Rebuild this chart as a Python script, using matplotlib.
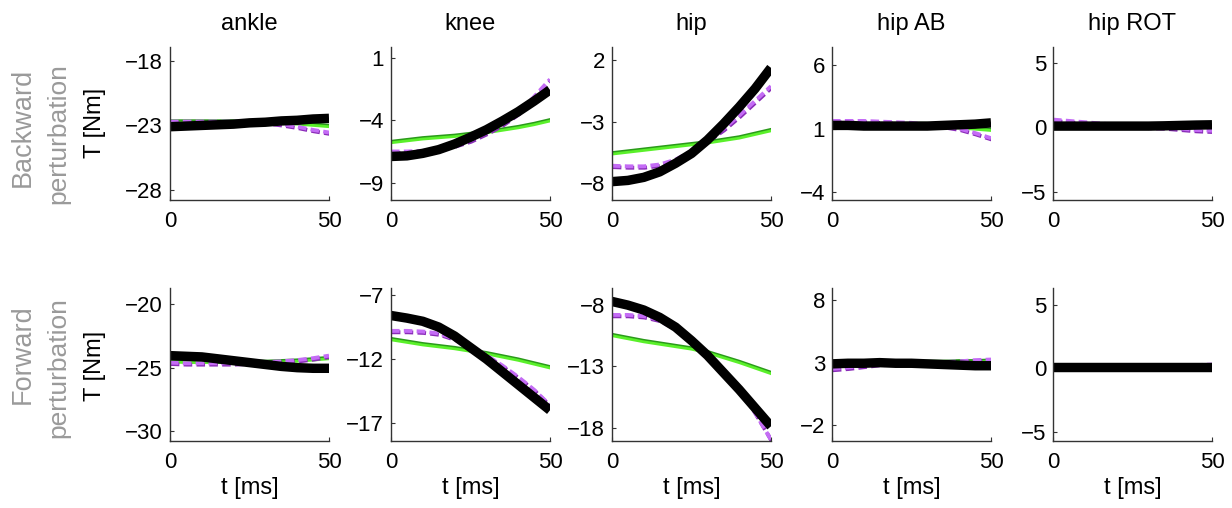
import numpy as np
import matplotlib.pyplot as plt
import matplotlib.patheffects as pe

plt.rcParams['font.family'] = ['Liberation Sans', 'DejaVu Sans']

t = [0, 5, 10, 15, 20, 25, 30, 35, 40, 45, 50]
joints = ['ankle', 'knee', 'hip', 'hip AB', 'hip ROT']
row_names = [('Backward', 'perturbation'), ('Forward', 'perturbation')]

# backward perturbation
bw_black = [
    [-23.1, -23.05, -23.0, -22.95, -22.9, -22.8, -22.75, -22.65, -22.6, -22.5, -22.45],
    [-6.9, -6.85, -6.65, -6.35, -5.9, -5.35, -4.75, -4.05, -3.3, -2.45, -1.55],
    [-7.9, -7.8, -7.55, -7.1, -6.4, -5.6, -4.5, -3.2, -1.8, -0.3, 1.4],
    [1.25, 1.25, 1.2, 1.2, 1.2, 1.2, 1.2, 1.25, 1.3, 1.35, 1.45],
    [0.1, 0.1, 0.1, 0.1, 0.1, 0.1, 0.1, 0.12, 0.15, 0.18, 0.2],
]
bw_green = [
    [-22.75, -22.75, -22.75, -22.75, -22.75, -22.75, -22.8, -22.85, -22.9, -23.0, -23.1],
    [-5.8, -5.65, -5.5, -5.4, -5.3, -5.15, -5.0, -4.8, -4.6, -4.35, -4.05],
    [-5.65, -5.5, -5.35, -5.2, -5.05, -4.9, -4.75, -4.55, -4.35, -4.05, -3.75],
    [1.35, 1.35, 1.3, 1.3, 1.3, 1.3, 1.3, 1.2, 1.05, 0.95, 0.85],
    [0.1, 0.1, 0.1, 0.1, 0.1, 0.1, 0.1, 0.1, 0.1, 0.1, 0.1],
]
bw_purple = [
    [-22.7, -22.7, -22.7, -22.7, -22.7, -22.7, -22.75, -22.9, -23.1, -23.35, -23.55],
    [-6.5, -6.5, -6.45, -6.3, -6.0, -5.6, -5.0, -4.3, -3.4, -2.1, -0.7],
    [-6.6, -6.65, -6.65, -6.5, -6.1, -5.4, -4.5, -3.6, -2.5, -1.3, -0.1],
    [1.6, 1.6, 1.6, 1.55, 1.5, 1.45, 1.3, 1.2, 1.0, 0.65, 0.25],
    [0.6, 0.5, 0.4, 0.3, 0.2, 0.1, 0.05, 0.0, -0.1, -0.2, -0.25],
]
# forward perturbation
fw_black = [
    [-24.05, -24.1, -24.15, -24.3, -24.45, -24.6, -24.75, -24.9, -25.0, -25.05, -25.05],
    [-8.6, -8.8, -9.05, -9.5, -10.2, -11.1, -12.0, -13.0, -14.0, -15.0, -16.0],
    [-7.7, -8.0, -8.4, -9.0, -9.8, -10.9, -12.1, -13.5, -14.9, -16.4, -17.9],
    [2.9, 2.95, 2.95, 3.0, 2.95, 2.95, 2.9, 2.85, 2.8, 2.75, 2.75],
    [0.1, 0.1, 0.1, 0.1, 0.1, 0.1, 0.1, 0.1, 0.1, 0.1, 0.1],
]
fw_green = [
    [-24.55, -24.6, -24.6, -24.6, -24.6, -24.6, -24.6, -24.55, -24.5, -24.4, -24.3],
    [-10.5, -10.7, -10.9, -11.05, -11.2, -11.4, -11.6, -11.85, -12.1, -12.4, -12.7],
    [-10.5, -10.75, -11.0, -11.2, -11.4, -11.6, -11.9, -12.3, -12.7, -13.15, -13.6],
    [2.7, 2.8, 2.85, 2.9, 2.95, 2.95, 3.0, 3.0, 3.05, 3.05, 3.1],
    [0.1, 0.1, 0.1, 0.1, 0.1, 0.1, 0.1, 0.1, 0.1, 0.1, 0.1],
]
fw_purple = [
    [-24.6, -24.65, -24.65, -24.65, -24.65, -24.6, -24.55, -24.5, -24.4, -24.25, -24.05],
    [-9.8, -9.8, -9.85, -10.0, -10.4, -11.0, -11.7, -12.5, -13.4, -14.4, -15.6],
    [-8.8, -8.8, -8.9, -9.2, -9.9, -10.9, -12.0, -13.3, -14.8, -16.8, -19.0],
    [2.5, 2.6, 2.75, 2.9, 2.95, 3.0, 3.0, 3.05, 3.1, 3.2, 3.25],
    [0.1, 0.1, 0.1, 0.1, 0.1, 0.1, 0.12, 0.15, 0.2, 0.25, 0.3],
]

bw_yticks = [[-28, -23, -18], [-9, -4, 1], [-8, -3, 2], [-4, 1, 6], [-5, 0, 5]]
fw_yticks = [[-30, -25, -20], [-17, -12, -7], [-18, -13, -8], [-2, 3, 8], [-5, 0, 5]]
bw_ylim = [(-28.8, -16.9), (-10.4, 1.9), (-9.4, 3.1), (-4.6, 7.4), (-5.6, 6.2)]
fw_ylim = [(-30.8, -18.7), (-18.4, -6.45), (-19.1, -6.6), (-3.3, 9.0), (-5.7, 6.3)]

W, H = 1232, 508
fig = plt.figure(figsize=(W / 100, H / 100), dpi=100)

col_left = [170, 391, 612, 832, 1053]
row_top = [47, 288]
aw, ah = 159, 153

rows = [(bw_black, bw_green, bw_purple, bw_yticks, bw_ylim),
        (fw_black, fw_green, fw_purple, fw_yticks, fw_ylim)]

for r, (blk, grn, prp, yt, yl) in enumerate(rows):
    for c in range(5):
        ax = fig.add_axes([col_left[c] / W, 1 - (row_top[r] + ah) / H, aw / W, ah / H])
        ax.plot(t, grn[c], color='#5af02a', lw=2.0,
                path_effects=[pe.Stroke(linewidth=1.8, foreground='#2a9a1a', offset=(0, 1.2)), pe.Normal()])
        ax.plot(t, prp[c], color='#c46cf5', lw=2.8, dashes=(2.2, 1.1),
                path_effects=[pe.Stroke(linewidth=2.8, foreground='#8a2cb8', offset=(0.6, -1.0)), pe.Normal()])
        ax.plot(t, blk[c], color='black', lw=6.8, solid_capstyle='butt')
        ax.set_xlim(0, 50)
        ax.set_ylim(*yl[c])
        ax.set_xticks([0, 50])
        ax.set_yticks(yt[c])
        for s in ['top', 'right']:
            ax.spines[s].set_visible(False)
        for s in ['left', 'bottom']:
            ax.spines[s].set_color('#333333')
            ax.spines[s].set_linewidth(1.0)
        ax.tick_params(direction='in', length=3, width=0.8, colors='#333333',
                       labelcolor='black', labelsize=16)
        ax.tick_params(axis='x', pad=8)
        ax.tick_params(axis='y', pad=5)
        if r == 0:
            ax.set_title(joints[c], fontsize=17, pad=12)
        else:
            ax.set_xlabel('t [ms]', fontsize=17, labelpad=3)

# row labels
for r, (y1, y2, ylab) in enumerate([(127, 134, 123), (354, 368, 366)]):
    fig.text(23 / W, 1 - y1 / H, row_names[r][0], rotation=90, ha='center', va='center',
             fontsize=19.5, color='#9a9a9a')
    fig.text(58 / W, 1 - y2 / H, row_names[r][1], rotation=90, ha='center', va='center',
             fontsize=19, color='#9a9a9a')
    fig.text(95 / W, 1 - ylab / H, 'T [Nm]', rotation=90, ha='center', va='center',
             fontsize=17)

fig.savefig('out.png', dpi=100)
